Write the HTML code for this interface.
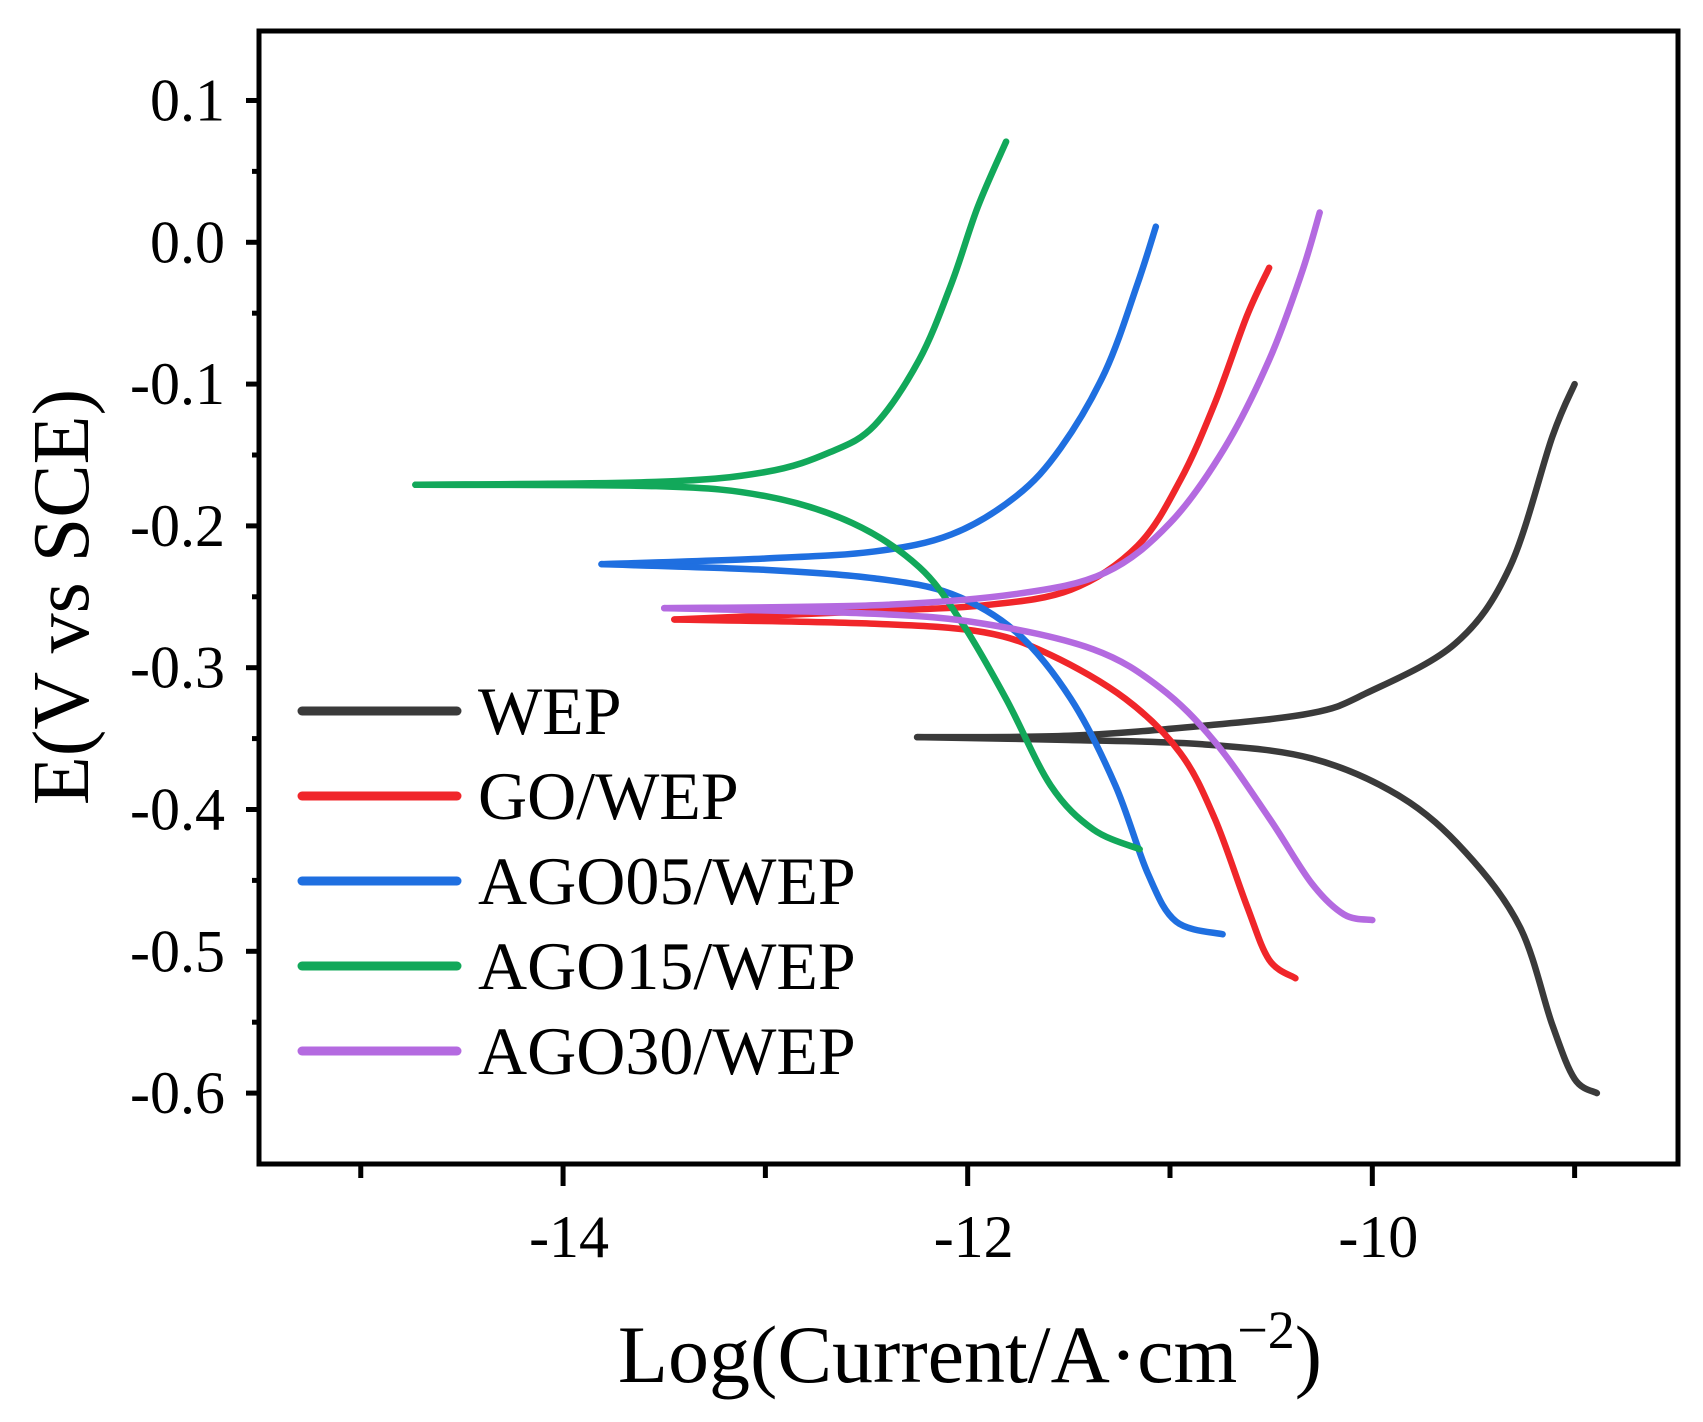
<!DOCTYPE html>
<html><head><meta charset="utf-8"><style>
html,body{margin:0;padding:0;background:#fff;}
svg{display:block;font-family:"Liberation Serif",serif;}
</style></head><body>
<svg id="chart" width="1703" height="1422" viewBox="0 0 1703 1422" xmlns="http://www.w3.org/2000/svg"></svg>
<script>
// ---- data ----
const xTicks = [-14, -12, -10];
const xMinorTicks = [-15, -13, -11, -9];
const yTicks = [0.1, 0.0, -0.1, -0.2, -0.3, -0.4, -0.5, -0.6];
const yTickLabels = ["0.1","0.0","-0.1","-0.2","-0.3","-0.4","-0.5","-0.6"];
const yMinorTicks = [0.05, -0.05, -0.15, -0.25, -0.35, -0.45, -0.55];
const seriesNames = ["WEP","GO/WEP","AGO05/WEP","AGO15/WEP","AGO30/WEP"];
const seriesColors = ["#3a3a3a","#f0262a","#1f6fe0","#12a85a","#b46ae0"];
const wepAnodic = [[-12.25,-0.349],[-11.5,-0.348],[-10.84,-0.341],[-10.3,-0.332],[-10.03,-0.318],[-9.59,-0.283],[-9.32,-0.229],[-9.11,-0.137],[-9.0,-0.1]];
const wepCathodic = [[-12.25,-0.349],[-11.5,-0.351],[-10.84,-0.354],[-10.3,-0.364],[-9.86,-0.391],[-9.54,-0.43],[-9.27,-0.483],[-9.11,-0.552],[-9.0,-0.59],[-8.89,-0.6]];
const goAnodic = [[-13.45,-0.266],[-12.46,-0.26],[-11.92,-0.256],[-11.49,-0.245],[-11.16,-0.214],[-10.95,-0.168],[-10.78,-0.114],[-10.62,-0.052],[-10.51,-0.018]];
const goCathodic = [[-13.45,-0.266],[-12.46,-0.269],[-11.92,-0.275],[-11.59,-0.291],[-11.22,-0.322],[-10.95,-0.36],[-10.78,-0.406],[-10.62,-0.468],[-10.51,-0.506],[-10.38,-0.519]];
const ago05Anodic = [[-13.81,-0.227],[-13.0,-0.223],[-12.46,-0.218],[-12.08,-0.206],[-11.76,-0.179],[-11.54,-0.145],[-11.32,-0.091],[-11.16,-0.029],[-11.07,0.011]];
const ago05Cathodic = [[-13.81,-0.227],[-13.0,-0.231],[-12.46,-0.237],[-12.08,-0.248],[-11.76,-0.275],[-11.49,-0.322],[-11.27,-0.383],[-11.11,-0.445],[-10.97,-0.479],[-10.74,-0.488]];
const ago15Anodic = [[-14.73,-0.171],[-13.54,-0.169],[-13.0,-0.162],[-12.68,-0.148],[-12.46,-0.129],[-12.24,-0.083],[-12.08,-0.029],[-11.95,0.025],[-11.81,0.071]];
const ago15Cathodic = [[-14.73,-0.171],[-13.54,-0.172],[-13.0,-0.179],[-12.57,-0.198],[-12.24,-0.229],[-12.03,-0.268],[-11.81,-0.322],[-11.59,-0.383],[-11.38,-0.414],[-11.15,-0.428]];
const ago30Anodic = [[-13.5,-0.258],[-12.46,-0.256],[-11.76,-0.248],[-11.32,-0.233],[-11.0,-0.198],[-10.73,-0.145],[-10.51,-0.083],[-10.35,-0.022],[-10.26,0.021]];
const ago30Cathodic = [[-13.5,-0.258],[-12.46,-0.262],[-11.92,-0.269],[-11.38,-0.287],[-11.05,-0.314],[-10.78,-0.352],[-10.51,-0.406],[-10.3,-0.452],[-10.14,-0.474],[-10.0,-0.478]];
const seriesData = [[wepAnodic,wepCathodic],[goAnodic,goCathodic],[ago05Anodic,ago05Cathodic],[ago15Anodic,ago15Cathodic],[ago30Anodic,ago30Cathodic]];

// ---- layout ----
const L=259,R=1678,T=31,B=1164;
const X0=-15.503,X1=-8.489,Y0=-0.65,Y1=0.149;
const sx=v=>L+(v-X0)/(X1-X0)*(R-L);
const sy=v=>B-(v-Y0)/(Y1-Y0)*(B-T);
const svg=document.getElementById('chart');
const NS="http://www.w3.org/2000/svg";
function mk(tag,attrs,parent){const e=document.createElementNS(NS,tag);for(const k in attrs)e.setAttribute(k,attrs[k]);(parent||svg).appendChild(e);return e;}

function smoothPath(pts){
  const p=pts.map(d=>[sx(d[0]),sy(d[1])]);
  let d=`M${p[0][0]},${p[0][1]}`;
  for(let i=0;i<p.length-1;i++){
    const p0=p[i-1]||p[i],p1=p[i],p2=p[i+1],p3=p[i+2]||p2;
    const c1=[p1[0]+(p2[0]-p0[0])/6,p1[1]+(p2[1]-p0[1])/6];
    const c2=[p2[0]-(p3[0]-p1[0])/6,p2[1]-(p3[1]-p1[1])/6];
    d+=` C${c1[0]},${c1[1]} ${c2[0]},${c2[1]} ${p2[0]},${p2[1]}`;
  }
  return d;
}

// series
seriesData.forEach((branches,si)=>{
  const g=mk('g',{});
  
  
  branches.forEach((br,bi)=>{
    const p=mk('path',{d:smoothPath(br),fill:'none',stroke:seriesColors[si],'stroke-width':6.5,'stroke-linecap':'round','stroke-linejoin':'round'},g);
    
    
  });
});

// frame
const frame=mk('rect',{x:L,y:T,width:R-L,height:B-T,fill:'none',stroke:'#000','stroke-width':5});



// y ticks
yTicks.forEach((v,i)=>{
  const t=mk('line',{x1:L-13,x2:L,y1:sy(v),y2:sy(v),stroke:'#000','stroke-width':5});
  
  
  const tx=mk('text',{x:L-34,y:sy(v)+20,'text-anchor':'end','font-size':60});
  tx.textContent=yTickLabels[i];
  
  
});
yMinorTicks.forEach(v=>{
  const t=mk('line',{x1:L-7,x2:L,y1:sy(v),y2:sy(v),stroke:'#000','stroke-width':5});
  
  
});
// x ticks
xTicks.forEach(v=>{
  const t=mk('line',{x1:sx(v),x2:sx(v),y1:B,y2:B+22,stroke:'#000','stroke-width':5});
  
  
  const tx=mk('text',{x:sx(v)+6,y:B+93,'text-anchor':'middle','font-size':60});
  tx.textContent=String(v);
  
  
});
xMinorTicks.forEach(v=>{
  const t=mk('line',{x1:sx(v),x2:sx(v),y1:B,y2:B+14,stroke:'#000','stroke-width':5});
  
  
});

// axis titles
const xt=mk('text',{x:970,y:1382,'text-anchor':'middle','font-size':82});
xt.innerHTML='Log(Current/A·cm<tspan dy="-34" font-size="54">−2</tspan><tspan dy="34">)</tspan>';


const yt=mk('text',{x:0,y:0,'text-anchor':'middle','font-size':80,transform:'translate(88,597) rotate(-90)'});
yt.textContent='E(V vs SCE)';



// legend
seriesNames.forEach((n,i)=>{
  const y=711+i*85;
  const g=mk('g',{});
  
  
  mk('line',{x1:302,x2:457,y1:y,y2:y,stroke:seriesColors[i],'stroke-width':9,'stroke-linecap':'round'},g);
  const t=mk('text',{x:478,y:y+23,'font-size':68},g);
  t.textContent=n;
});
</script>
</body></html>
